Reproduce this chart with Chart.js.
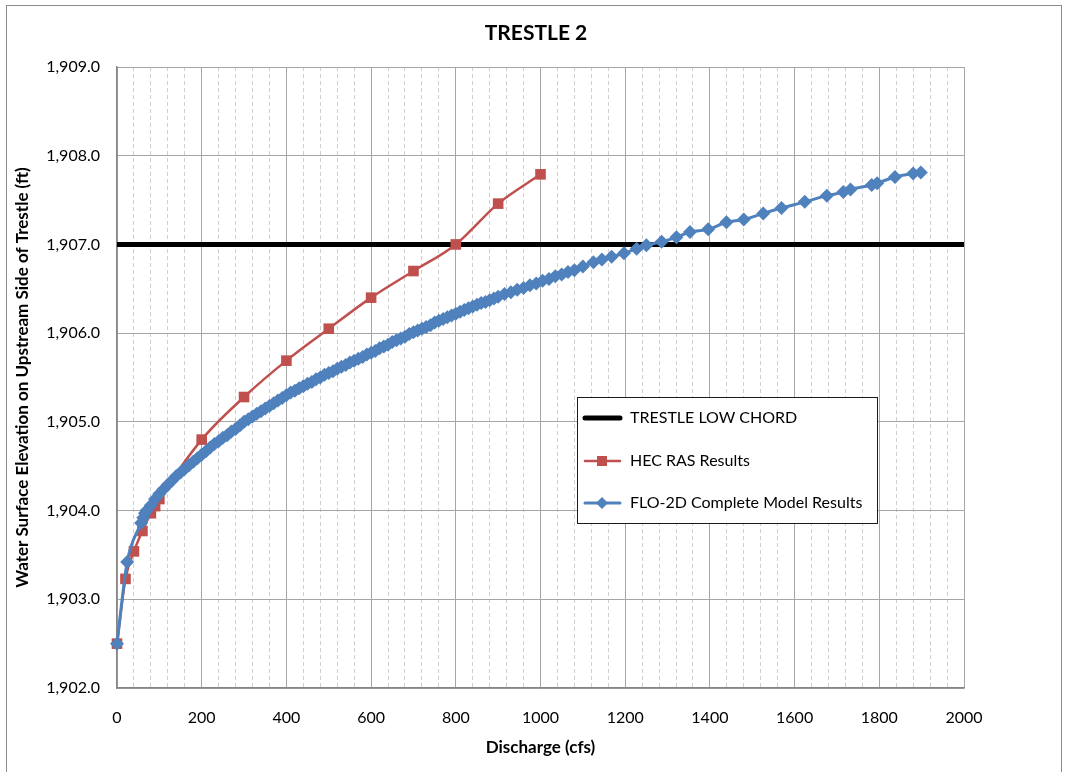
<!DOCTYPE html>
<html>
<head>
<meta charset="utf-8">
<script src="https://cdn.jsdelivr.net/npm/chart.js@4"></script>
<style>
  html, body { margin: 0; padding: 0; background: #ffffff; }
  canvas { display: block; }
</style>
</head>
<body>
<canvas id="c" width="1065" height="772"></canvas>
<script>
// ---- Data ----
const chartTitle = "TRESTLE 2";
const xAxisTitle = "Discharge (cfs)";
const yAxisTitle = "Water Surface Elevation on Upstream Side of Trestle (ft)";
const seriesNames = ["TRESTLE LOW CHORD", "HEC RAS Results", "FLO-2D Complete Model Results"];

const lowChordQ = [0, 2000];
const lowChordElev = [1907.0, 1907.0];

const hecQ = [0, 20, 40, 60, 80, 90, 100, 200, 300, 400, 500, 600, 700, 800, 900, 1000];
const hecElev = [1902.50, 1903.23, 1903.54, 1903.77, 1903.97, 1904.05, 1904.13, 1904.80, 1905.28, 1905.69, 1906.05, 1906.40, 1906.70, 1907.00, 1907.46, 1907.79];

const floQ = [0, 24, 57, 62, 66, 70, 80, 90, 100, 110, 120, 130, 140, 150, 160, 170, 180, 190, 200,
  210, 220, 230, 240, 250, 260, 270, 280, 290, 300, 310, 320, 330, 340, 350, 360, 370, 380, 390, 400,
  410, 420, 430, 440, 450, 460, 470, 480, 490, 500, 510, 520, 530, 540, 550, 560, 570, 580, 590, 600,
  610, 620, 630, 640, 650, 660, 670, 680, 690, 700, 710, 720, 730, 740, 750, 760, 770, 780, 790, 800,
  810, 820, 830, 840, 850, 860, 870, 880, 890, 900, 915, 930, 945, 960, 975, 990, 1005, 1020, 1035, 1050,
  1065, 1080, 1100, 1125, 1145, 1168, 1197, 1227, 1250, 1286, 1321, 1353, 1396, 1439, 1480, 1526, 1569,
  1624, 1676, 1715, 1732, 1782, 1795, 1837, 1880, 1898];
const floElev = [1902.50, 1903.42, 1903.86, 1903.92, 1903.97, 1904.00, 1904.06, 1904.13, 1904.19, 1904.24, 1904.29, 1904.34, 1904.39, 1904.43, 1904.47, 1904.51, 1904.55, 1904.59, 1904.63,
  1904.67, 1904.71, 1904.75, 1904.78, 1904.82, 1904.85, 1904.89, 1904.92, 1904.96, 1905.00, 1905.03, 1905.06, 1905.09, 1905.12, 1905.15, 1905.18, 1905.21, 1905.24, 1905.27, 1905.30,
  1905.33, 1905.35, 1905.38, 1905.40, 1905.43, 1905.45, 1905.48, 1905.50, 1905.53, 1905.55, 1905.57, 1905.60, 1905.62, 1905.64, 1905.67, 1905.69, 1905.71, 1905.73, 1905.76, 1905.78,
  1905.80, 1905.83, 1905.85, 1905.87, 1905.90, 1905.92, 1905.94, 1905.96, 1905.99, 1906.01, 1906.03, 1906.05, 1906.07, 1906.09, 1906.12, 1906.14, 1906.16, 1906.18, 1906.20, 1906.22,
  1906.24, 1906.26, 1906.28, 1906.30, 1906.32, 1906.34, 1906.35, 1906.37, 1906.39, 1906.41, 1906.44, 1906.46, 1906.49, 1906.51, 1906.54, 1906.56, 1906.59, 1906.61, 1906.64, 1906.66,
  1906.69, 1906.71, 1906.75, 1906.80, 1906.83, 1906.86, 1906.90, 1906.95, 1906.99, 1907.03, 1907.08, 1907.14, 1907.17, 1907.25, 1907.28, 1907.35, 1907.41,
  1907.48, 1907.55, 1907.59, 1907.62, 1907.67, 1907.69, 1907.76, 1907.80, 1907.81];

const xMin = 0, xMax = 2000, xMinorStep = 40, xMajorStep = 200;
const yMin = 1902, yMax = 1909, yStep = 1;

// ---- Styling ----
const FONT = "Lato, 'Open Sans', sans-serif";
const colBlack = "#000000";
const colRed = "#c0504d";
const colBlue = "#4f81bd";

const toPts = (xs, ys) => xs.map((x, i) => ({ x: x, y: ys[i] }));

const framePlugin = {
  id: 'frame',
  beforeDraw(chart) {
    const ctx = chart.ctx;
    ctx.save();
    ctx.fillStyle = '#ffffff';
    ctx.fillRect(0, 0, chart.width, chart.height);
    ctx.strokeStyle = '#8c8c8c';
    ctx.lineWidth = 1;
    ctx.strokeRect(6.5, 5.5, 1055, 775);
    ctx.fillStyle = '#000000';
    ctx.font = "bold 21px " + FONT;
    ctx.textAlign = 'center';
    ctx.textBaseline = 'middle';
    ctx.fillText(chartTitle, 536, 33);
    ctx.restore();
  },
  afterDraw(chart) {
    const ctx = chart.ctx;
    const bx = 577.5, by = 397.5, bw = 300, bh = 126;
    ctx.save();
    ctx.fillStyle = '#ffffff';
    ctx.fillRect(bx, by, bw, bh);
    ctx.strokeStyle = '#1a1a1a';
    ctx.lineWidth = 1;
    ctx.strokeRect(bx, by, bw, bh);
    const rows = [418, 461, 503];
    chart.data.datasets.forEach((ds, i) => {
      const y = rows[i];
      ctx.strokeStyle = ds.borderColor;
      ctx.lineWidth = ds.borderWidth;
      ctx.lineCap = 'round';
      ctx.beginPath();
      ctx.moveTo(585, y);
      ctx.lineTo(620, y);
      ctx.stroke();
      ctx.fillStyle = ds.borderColor;
      if (ds.pointStyle === 'rect') {
        ctx.fillRect(597, y - 5, 10, 10);
      } else if (ds.pointStyle === 'rectRot') {
        ctx.beginPath();
        ctx.moveTo(602, y - 6);
        ctx.lineTo(608, y);
        ctx.lineTo(602, y + 6);
        ctx.lineTo(596, y);
        ctx.closePath();
        ctx.fill();
      }
      ctx.fillStyle = '#000000';
      ctx.font = "16px " + FONT;
      ctx.textAlign = 'left';
      ctx.textBaseline = 'middle';
      ctx.fillText(ds.label, 630, y);
    });
    ctx.restore();
  }
};

new Chart(document.getElementById('c'), {
  type: 'line',
  data: {
    datasets: [
      {
        label: seriesNames[0],
        data: toPts(lowChordQ, lowChordElev),
        borderColor: colBlack,
        backgroundColor: colBlack,
        borderWidth: 5,
        pointRadius: 0,
        pointStyle: false,
        order: 3
      },
      {
        label: seriesNames[1],
        data: toPts(hecQ, hecElev),
        borderColor: colRed,
        backgroundColor: colRed,
        borderWidth: 2.5,
        pointStyle: 'rect',
        pointRadius: 7.5,
        pointBorderWidth: 0,
        pointBackgroundColor: colRed,
        cubicInterpolationMode: 'monotone',
        clip: false,
        order: 2
      },
      {
        label: seriesNames[2],
        data: toPts(floQ, floElev),
        borderColor: colBlue,
        backgroundColor: colBlue,
        borderWidth: 3,
        pointStyle: 'rectRot',
        pointRadius: 7,
        pointBorderWidth: 0,
        pointBackgroundColor: colBlue,
        cubicInterpolationMode: 'monotone',
        clip: false,
        order: 1
      }
    ]
  },
  options: {
    responsive: false,
    devicePixelRatio: 1,
    animation: false,
    layout: { padding: { left: 8, right: 101, top: 67, bottom: 10 } },
    plugins: {
      legend: { display: false },
      title: { display: false },
      tooltip: { enabled: false }
    },
    scales: {
      x: {
        type: 'linear',
        min: xMin, max: xMax,
        afterFit: s => { s.height = 74; },
        ticks: {
          stepSize: xMinorStep,
          autoSkip: false,
          maxRotation: 0,
          padding: 20,
          color: '#000000',
          font: { family: FONT, size: 16 },
          callback: v => (v % xMajorStep === 0 ? String(v) : '')
        },
        grid: {
          drawTicks: false,
          color: c => (c.tick && c.tick.value % xMajorStep === 0 ? '#a6a6a6' : '#cfcfcf'),
          lineWidth: 1
        },
        border: {
          display: true,
          color: '#868686',
          width: 1.5,
          dash: c => (c.tick && c.tick.value % xMajorStep !== 0 ? [4, 3] : [])
        },
        title: {
          display: true,
          text: xAxisTitle,
          color: '#000000',
          font: { family: FONT, size: 17, weight: 'bold' },
          padding: { top: 4, bottom: 4 }
        }
      },
      y: {
        type: 'linear',
        min: yMin, max: yMax,
        afterFit: s => { s.width = 109; },
        ticks: {
          stepSize: yStep,
          padding: 17,
          color: '#000000',
          font: { family: FONT, size: 16 },
          callback: v => v.toLocaleString('en-US', { minimumFractionDigits: 1, maximumFractionDigits: 1 })
        },
        grid: {
          drawTicks: false,
          color: '#a6a6a6',
          lineWidth: 1
        },
        border: { display: true, color: '#868686', width: 1.5 },
        title: {
          display: true,
          text: yAxisTitle,
          color: '#000000',
          font: { family: FONT, size: 17, weight: 'bold' },
          padding: { top: 4, bottom: 4 }
        }
      }
    }
  },
  plugins: [framePlugin]
});
</script>
</body>
</html>
